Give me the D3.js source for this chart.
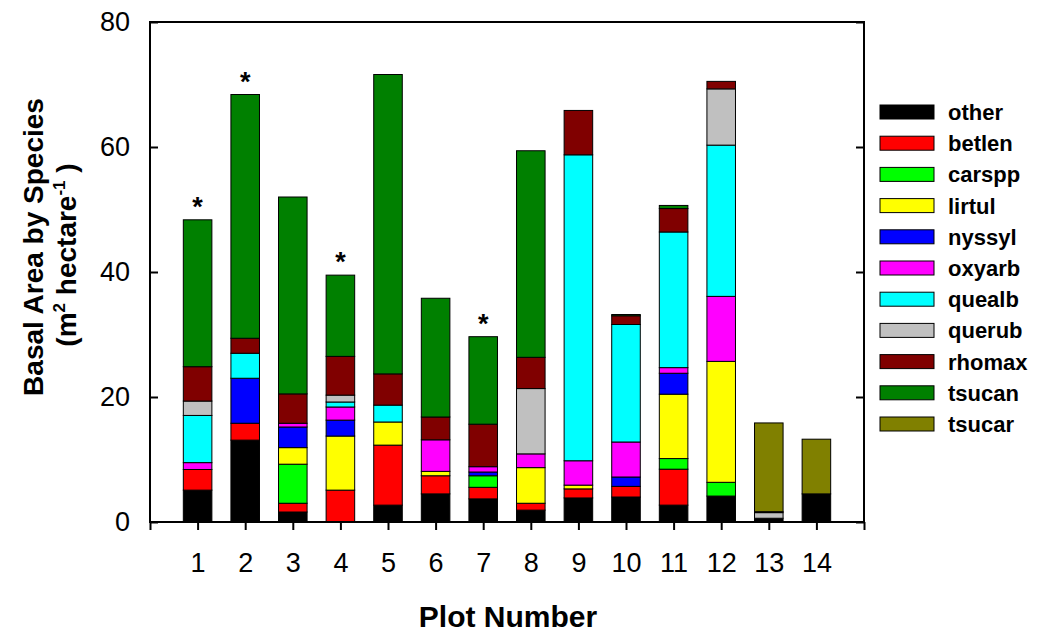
<!DOCTYPE html>
<html>
<head>
<meta charset="utf-8">
<script src="https://cdn.jsdelivr.net/npm/d3@7"></script>
<style>
  html, body { margin: 0; padding: 0; background: #fff; }
  svg { display: block; font-family: "Liberation Sans", Arial, Helvetica, sans-serif; }
</style>
</head>
<body>
<svg id="chart" width="1038" height="633"></svg>
<script>
// ---- data ----
const plots = [1, 2, 3, 4, 5, 6, 7, 8, 9, 10, 11, 12, 13, 14];
const species = ["other", "betlen", "carspp", "lirtul", "nyssyl", "oxyarb", "quealb", "querub", "rhomax", "tsucan", "tsucar"];
const speciesColors = ["#000000", "#FF0000", "#00FF00", "#FFFF00", "#0000FF", "#FF00FF", "#00FFFF", "#C0C0C0", "#800000", "#008000", "#808000"];
const other  = [5.1, 13.1, 1.6, 0, 2.7, 4.5, 3.7, 1.9, 3.85, 4.0, 2.7, 4.15, 0.6, 4.5];
const betlen = [3.3, 2.7, 1.4, 5.1, 9.6, 2.9, 1.85, 1.1, 1.45, 1.7, 5.75, 0, 0, 0];
const carspp = [0, 0, 6.25, 0, 0, 0, 1.85, 0, 0, 0, 1.7, 2.2, 0, 0];
const lirtul = [0, 0, 2.65, 8.65, 3.7, 0.7, 0, 5.7, 0.6, 0, 10.3, 19.35, 0, 0];
const nyssyl = [0, 7.2, 3.3, 2.55, 0, 0, 0.6, 0, 0, 1.5, 3.35, 0, 0, 0];
const oxyarb = [1.1, 0, 0.6, 2.1, 0, 5.05, 0.85, 2.2, 3.9, 5.6, 0.9, 10.4, 0, 0];
const quealb = [7.55, 4.0, 0, 0.8, 2.7, 0, 0, 0, 48.95, 18.8, 21.7, 24.2, 0, 0];
const querub = [2.3, 0, 0, 1.1, 0, 0, 0, 10.45, 0, 0, 0, 9.0, 0.9, 0];
const rhomax = [5.5, 2.4, 4.7, 6.2, 5.0, 3.65, 6.8, 5.0, 7.1, 1.4, 3.75, 1.2, 0.15, 0];
const tsucan = [23.5, 39.0, 31.5, 13.0, 47.9, 19.0, 14.0, 33.05, 0, 0.2, 0.5, 0, 0, 0];
const tsucar = [0, 0, 0, 0, 0, 0, 0, 0, 0, 0, 0, 0, 14.2, 8.75];
const starredPlots = [1, 2, 4, 7];
const yTicks = [0, 20, 40, 60, 80];
const xTickPositions = [0, 1, 2, 3, 4, 5, 6, 7, 8, 9, 10, 11, 12, 13, 14, 15];

const seriesValues = [other, betlen, carspp, lirtul, nyssyl, oxyarb, quealb, querub, rhomax, tsucan, tsucar];
const table = plots.map((p, i) => {
  const row = { plot: p };
  species.forEach((s, k) => { row[s] = seriesValues[k][i]; });
  return row;
});

// ---- layout ----
const svg = d3.select("#chart");
const plotL = 150, plotR = 864, plotT = 22, plotB = 522;
const x = d3.scaleLinear().domain([0, 15]).range([plotL, plotR]);
const y = d3.scaleLinear().domain([0, 80]).range([plotB, plotT]);
const color = d3.scaleOrdinal().domain(species).range(speciesColors);
const halfW = 0.3;

const stacked = d3.stack().keys(species)(table);

// bars
const g = svg.append("g");
stacked.forEach(layer => {
  g.selectAll(null)
    .data(layer.filter(d => d[1] - d[0] > 0))
    .enter().append("rect")
    .attr("x", d => x(d.data.plot - halfW))
    .attr("width", x(2 * halfW) - x(0))
    .attr("y", d => y(d[1]))
    .attr("height", d => y(d[0]) - y(d[1]))
    .attr("fill", color(layer.key))
    .attr("stroke", "#000")
    .attr("stroke-width", 1);
});

// stars
const totals = table.map(r => d3.sum(species, s => r[s]));
svg.selectAll(null)
  .data(starredPlots)
  .enter().append("text")
  .attr("x", d => x(d))
  .attr("y", d => y(totals[d - 1]) - 4)
  .attr("text-anchor", "middle")
  .attr("font-size", 27)
  .attr("font-weight", "bold")
  .text("*");

// axes
const fontSize = 27;
const yAxis = d3.axisLeft(y).tickValues(yTicks).tickSizeInner(-8).tickSizeOuter(0).tickPadding(20);
const yAx = svg.append("g").attr("transform", `translate(${plotL},0)`).call(yAxis);
yAx.selectAll("text").attr("font-size", fontSize).attr("fill", "#000").attr("font-family", "Liberation Sans, Arial, sans-serif");

const yAxisR = d3.axisRight(y).tickValues(yTicks).tickSizeInner(-8).tickSizeOuter(0).tickFormat("");
svg.append("g").attr("transform", `translate(${plotR},0)`).call(yAxisR);

const xAxis = d3.axisBottom(x).tickValues(xTickPositions).tickSizeInner(8).tickSizeOuter(0).tickPadding(23)
  .tickFormat(d => plots.includes(d) ? String(d) : "");
const xAx = svg.append("g").attr("transform", `translate(0,${plotB})`).call(xAxis);
xAx.selectAll("text").attr("font-size", fontSize).attr("fill", "#000").attr("font-family", "Liberation Sans, Arial, sans-serif");

svg.selectAll(".tick line").attr("stroke", "#000").attr("stroke-width", 2);
svg.selectAll(".domain").remove();

// frame
svg.append("rect")
  .attr("x", plotL).attr("y", plotT)
  .attr("width", plotR - plotL).attr("height", plotB - plotT)
  .attr("fill", "none").attr("stroke", "#000").attr("stroke-width", 2);

// axis titles
svg.append("text")
  .attr("x", (x(0) + x(15)) / 2 + 1)
  .attr("y", 627)
  .attr("text-anchor", "middle")
  .attr("font-size", 30)
  .attr("font-weight", "bold")
  .text("Plot Number");

svg.append("text")
  .attr("transform", "translate(43,247) rotate(-90)")
  .attr("text-anchor", "middle")
  .attr("font-size", 28)
  .attr("font-weight", "bold")
  .text("Basal Area by Species");

const t2 = svg.append("text")
  .attr("transform", "translate(76,255) rotate(-90)")
  .attr("text-anchor", "middle")
  .attr("font-size", 28)
  .attr("font-weight", "bold");
t2.append("tspan").text("(m");
t2.append("tspan").attr("font-size", 17).attr("dy", -11).text("2");
t2.append("tspan").attr("dy", 11).text(" hectare");
t2.append("tspan").attr("font-size", 17).attr("dy", -11).text("-1");
t2.append("tspan").attr("dy", 11).text(" )");

// legend
const legend = svg.append("g");
const rowH = 31.2, legTop = 112;
species.forEach((s, i) => {
  const cy = legTop + i * rowH;
  legend.append("rect")
    .attr("x", 880).attr("y", cy - 7)
    .attr("width", 54).attr("height", 14)
    .attr("fill", color(s)).attr("stroke", "#000").attr("stroke-width", 1);
  legend.append("text")
    .attr("x", 948).attr("y", cy + 8)
    .attr("font-size", 22).attr("font-weight", "bold")
    .text(s);
});
</script>
</body>
</html>
